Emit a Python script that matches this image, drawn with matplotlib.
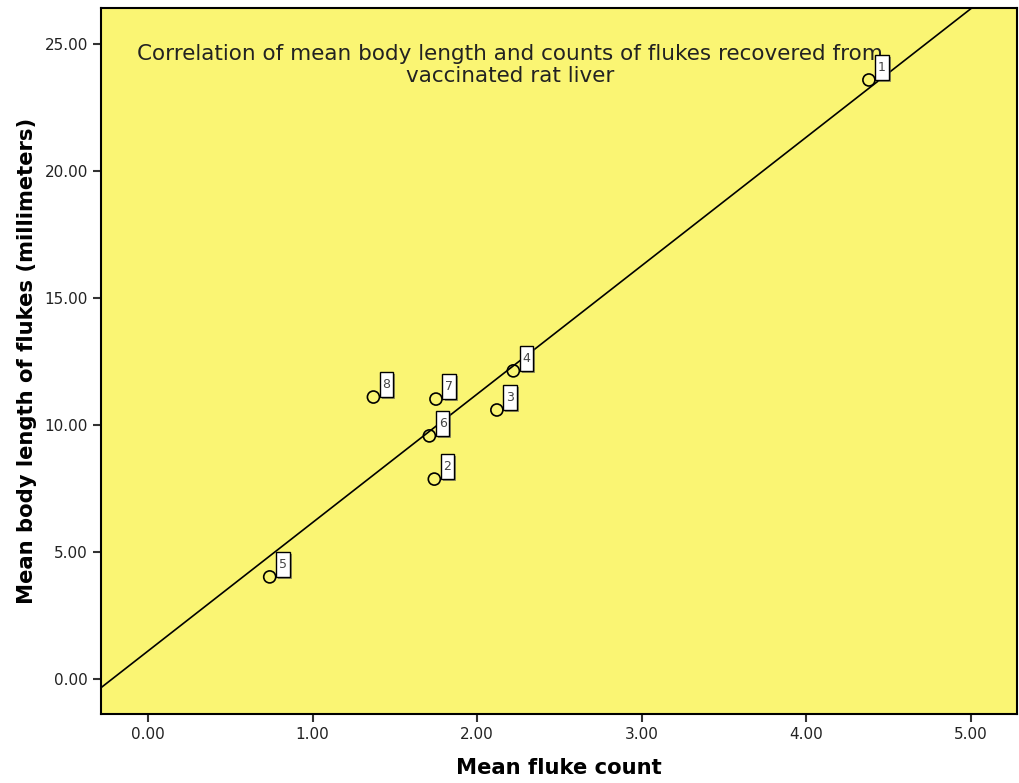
import numpy as np
import matplotlib
matplotlib.use("Agg")
import matplotlib.pyplot as plt
import matplotlib.patheffects as pe
from matplotlib.path import Path

# mean fluke count vs mean body length, one point per case
case_ids = ["1", "2", "3", "4", "5", "6", "7", "8"]
fluke_count = [4.38, 1.74, 2.12, 2.22, 0.74, 1.71, 1.75, 1.37]
body_length = [23.58, 7.87, 10.59, 12.13, 4.02, 9.57, 11.02, 11.10]

plt.rcParams['font.family'] = ['DejaVu Sans']


def tall_box(x0, y0, width, height, mutation_size):
    # case label box: narrow padding left/right, more top/bottom
    px, py = 0.22 * mutation_size, 0.5 * mutation_size
    x0, x1 = x0 - px, x0 + width + px
    y0, y1 = y0 - py, y0 + height + py
    return Path([(x0, y0), (x1, y0), (x1, y1), (x0, y1), (x0, y0)], closed=True)


fig = plt.figure(figsize=(10.19, 7.83), dpi=100)
ax = fig.add_axes([0.0991, 0.088, 0.899, 0.902])
ax.set_facecolor('#faf573')

ax.set_xlim(-0.285, 5.28)
ax.set_ylim(-1.38, 26.42)

# least squares fit line across the whole axes
slope, icpt = np.polyfit(fluke_count, body_length, 1)
xx = np.array([-0.285, 5.28])
ax.plot(xx, slope * xx + icpt, color='black', lw=1.2, zorder=2)

ax.scatter(fluke_count, body_length, s=75, facecolors='none', edgecolors='black',
           linewidths=1.2, zorder=3)

for cid, x, y in zip(case_ids, fluke_count, body_length):
    ann = ax.annotate(cid, (x, y), xytext=(9.5, 9), textcoords='offset points',
                      ha='center', va='center', fontsize=9, color='#444444', zorder=4,
                      bbox=dict(boxstyle=tall_box, fc='white', ec='black', lw=1))
    ann.get_bbox_patch().set_path_effects([
        pe.SimplePatchShadow(offset=(1.5, -1.5), shadow_rgbFace='#555555', alpha=0.6),
        pe.Normal()])

ax.text(2.2, 24.17, 'Correlation of mean body length and counts of flukes recovered from\nvaccinated rat liver',
        ha='center', va='center', fontsize=15.5, color='#222222', linespacing=1.15)

ax.set_xticks([0, 1, 2, 3, 4, 5])
ax.set_yticks([0, 5, 10, 15, 20, 25])
ax.set_xticklabels(['%.2f' % v for v in [0, 1, 2, 3, 4, 5]])
ax.set_yticklabels(['%.2f' % v for v in [0, 5, 10, 15, 20, 25]])
ax.tick_params(labelsize=11, length=6, width=1.5, color='#333333', labelcolor='#222222')

for sp in ax.spines.values():
    sp.set_linewidth(1.5)

ax.set_xlabel('Mean fluke count', fontsize=15.2, fontweight='bold', labelpad=11)
ax.set_ylabel('Mean body length of flukes (millimeters)', fontsize=15.2, fontweight='bold', labelpad=5)

fig.savefig('out.png', dpi=100)
